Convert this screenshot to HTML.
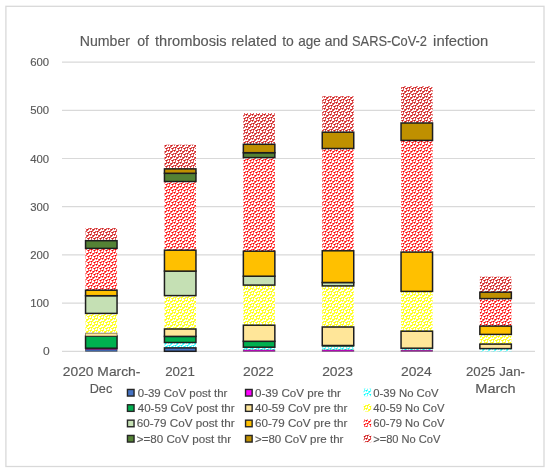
<!DOCTYPE html>
<html><head><meta charset="utf-8"><style>
html,body{margin:0;padding:0;background:#fff;}
svg{display:block;filter:blur(0.5px);}
text{font-family:"Liberation Sans",sans-serif;fill:#595959;stroke:#595959;stroke-width:0.15px;}
</style></head><body>
<svg width="550" height="473" viewBox="0 0 550 473">
<defs>
<pattern id="pr" patternUnits="userSpaceOnUse" width="6" height="6"><rect width="6" height="6" fill="#FFFFFF"/><rect x="0" y="0" width="1" height="1" fill="#FF0000"/><rect x="1" y="0" width="1" height="1" fill="#FF6464"/><rect x="4" y="0" width="1" height="1" fill="#FF6464"/><rect x="5" y="0" width="1" height="1" fill="#FF6464"/><rect x="0" y="1" width="1" height="1" fill="#FF6464"/><rect x="2" y="1" width="1" height="1" fill="#FF6464"/><rect x="3" y="1" width="1" height="1" fill="#FF0000"/><rect x="4" y="1" width="1" height="1" fill="#FF6464"/><rect x="2" y="2" width="1" height="1" fill="#FF6464"/><rect x="3" y="2" width="1" height="1" fill="#FF6464"/><rect x="0" y="3" width="1" height="1" fill="#FF6464"/><rect x="1" y="3" width="1" height="1" fill="#FF0000"/><rect x="2" y="3" width="1" height="1" fill="#FF6464"/><rect x="5" y="3" width="1" height="1" fill="#FF6464"/><rect x="1" y="4" width="1" height="1" fill="#FF6464"/><rect x="3" y="4" width="1" height="1" fill="#FF6464"/><rect x="4" y="4" width="1" height="1" fill="#FF0000"/><rect x="5" y="4" width="1" height="1" fill="#FF6464"/><rect x="1" y="5" width="1" height="1" fill="#FF6464"/><rect x="4" y="5" width="1" height="1" fill="#FF6464"/></pattern>
<pattern id="pr2" patternUnits="userSpaceOnUse" width="6" height="6"><rect width="6" height="6" fill="#FFFFFF"/><rect x="0" y="0" width="1" height="1" fill="#C81818"/><rect x="1" y="0" width="1" height="1" fill="#E05A5A"/><rect x="4" y="0" width="1" height="1" fill="#E05A5A"/><rect x="5" y="0" width="1" height="1" fill="#E05A5A"/><rect x="0" y="1" width="1" height="1" fill="#E05A5A"/><rect x="2" y="1" width="1" height="1" fill="#E05A5A"/><rect x="3" y="1" width="1" height="1" fill="#C81818"/><rect x="4" y="1" width="1" height="1" fill="#E05A5A"/><rect x="2" y="2" width="1" height="1" fill="#E05A5A"/><rect x="3" y="2" width="1" height="1" fill="#E05A5A"/><rect x="0" y="3" width="1" height="1" fill="#E05A5A"/><rect x="1" y="3" width="1" height="1" fill="#C81818"/><rect x="2" y="3" width="1" height="1" fill="#E05A5A"/><rect x="5" y="3" width="1" height="1" fill="#E05A5A"/><rect x="1" y="4" width="1" height="1" fill="#E05A5A"/><rect x="3" y="4" width="1" height="1" fill="#E05A5A"/><rect x="4" y="4" width="1" height="1" fill="#C81818"/><rect x="5" y="4" width="1" height="1" fill="#E05A5A"/><rect x="1" y="5" width="1" height="1" fill="#E05A5A"/><rect x="4" y="5" width="1" height="1" fill="#E05A5A"/></pattern>
<pattern id="py" patternUnits="userSpaceOnUse" width="6" height="6"><rect width="6" height="6" fill="#FFFFFF"/><rect x="0" y="0" width="1" height="1" fill="#FFFF00"/><rect x="1" y="0" width="1" height="1" fill="#FFFF40"/><rect x="4" y="0" width="1" height="1" fill="#FFFF40"/><rect x="5" y="0" width="1" height="1" fill="#FFFF40"/><rect x="0" y="1" width="1" height="1" fill="#FFFF40"/><rect x="2" y="1" width="1" height="1" fill="#FFFF40"/><rect x="3" y="1" width="1" height="1" fill="#FFFF00"/><rect x="4" y="1" width="1" height="1" fill="#FFFF40"/><rect x="2" y="2" width="1" height="1" fill="#FFFF40"/><rect x="3" y="2" width="1" height="1" fill="#FFFF40"/><rect x="0" y="3" width="1" height="1" fill="#FFFF40"/><rect x="1" y="3" width="1" height="1" fill="#FFFF00"/><rect x="2" y="3" width="1" height="1" fill="#FFFF40"/><rect x="5" y="3" width="1" height="1" fill="#FFFF40"/><rect x="1" y="4" width="1" height="1" fill="#FFFF40"/><rect x="3" y="4" width="1" height="1" fill="#FFFF40"/><rect x="4" y="4" width="1" height="1" fill="#FFFF00"/><rect x="5" y="4" width="1" height="1" fill="#FFFF40"/><rect x="1" y="5" width="1" height="1" fill="#FFFF40"/><rect x="4" y="5" width="1" height="1" fill="#FFFF40"/></pattern>
<pattern id="pc" patternUnits="userSpaceOnUse" width="6" height="6"><rect width="6" height="6" fill="#FFFFFF"/><rect x="0" y="0" width="1" height="1" fill="#00FFFF"/><rect x="1" y="0" width="1" height="1" fill="#70FFFF"/><rect x="4" y="0" width="1" height="1" fill="#70FFFF"/><rect x="5" y="0" width="1" height="1" fill="#70FFFF"/><rect x="0" y="1" width="1" height="1" fill="#70FFFF"/><rect x="2" y="1" width="1" height="1" fill="#70FFFF"/><rect x="3" y="1" width="1" height="1" fill="#00FFFF"/><rect x="4" y="1" width="1" height="1" fill="#70FFFF"/><rect x="2" y="2" width="1" height="1" fill="#70FFFF"/><rect x="3" y="2" width="1" height="1" fill="#70FFFF"/><rect x="0" y="3" width="1" height="1" fill="#70FFFF"/><rect x="1" y="3" width="1" height="1" fill="#00FFFF"/><rect x="2" y="3" width="1" height="1" fill="#70FFFF"/><rect x="5" y="3" width="1" height="1" fill="#70FFFF"/><rect x="1" y="4" width="1" height="1" fill="#70FFFF"/><rect x="3" y="4" width="1" height="1" fill="#70FFFF"/><rect x="4" y="4" width="1" height="1" fill="#00FFFF"/><rect x="5" y="4" width="1" height="1" fill="#70FFFF"/><rect x="1" y="5" width="1" height="1" fill="#70FFFF"/><rect x="4" y="5" width="1" height="1" fill="#70FFFF"/></pattern>
</defs>
<rect x="0" y="0" width="550" height="473" fill="#fff"/>
<rect x="5.9" y="6.3" width="538.1" height="460.2" fill="none" stroke="#D9D9D9" stroke-width="1.3"/>
<line x1="62" y1="351.30" x2="535" y2="351.30" stroke="#D9D9D9" stroke-width="1.2"/>
<line x1="62" y1="303.10" x2="535" y2="303.10" stroke="#D9D9D9" stroke-width="1.2"/>
<line x1="62" y1="254.90" x2="535" y2="254.90" stroke="#D9D9D9" stroke-width="1.2"/>
<line x1="62" y1="206.70" x2="535" y2="206.70" stroke="#D9D9D9" stroke-width="1.2"/>
<line x1="62" y1="158.50" x2="535" y2="158.50" stroke="#D9D9D9" stroke-width="1.2"/>
<line x1="62" y1="110.30" x2="535" y2="110.30" stroke="#D9D9D9" stroke-width="1.2"/>
<line x1="62" y1="62.10" x2="535" y2="62.10" stroke="#D9D9D9" stroke-width="1.2"/>
<rect x="85.55" y="313.40" width="31.5" height="19.80" fill="url(#py)"/>
<rect x="85.55" y="248.40" width="31.5" height="41.80" fill="url(#pr)"/>
<rect x="85.55" y="228.10" width="31.5" height="12.60" fill="url(#pr2)"/>
<rect x="85.55" y="349.60" width="31.5" height="1.70" fill="#4472C4" stroke="#1E1E1E" stroke-opacity="0.55" stroke-width="0.9"/>
<rect x="85.55" y="348.20" width="31.5" height="1.40" fill="#FF00FF" stroke="#1E1E1E" stroke-opacity="0.55" stroke-width="0.9"/>
<rect x="85.55" y="336.10" width="31.5" height="12.10" fill="#00B050" stroke="#1E1E1E" stroke-width="1.5"/>
<rect x="85.55" y="333.20" width="31.5" height="2.90" fill="#FFE699" stroke="#1E1E1E" stroke-opacity="0.55" stroke-width="0.9"/>
<rect x="85.55" y="295.70" width="31.5" height="17.70" fill="#C5E0B4" stroke="#1E1E1E" stroke-width="1.5"/>
<rect x="85.55" y="290.20" width="31.5" height="5.50" fill="#FFC000" stroke="#1E1E1E" stroke-width="1.5"/>
<rect x="85.55" y="240.70" width="31.5" height="7.70" fill="#548235" stroke="#1E1E1E" stroke-width="1.5"/>
<rect x="164.45" y="342.50" width="31.5" height="5.40" fill="url(#pc)"/>
<rect x="164.45" y="295.60" width="31.5" height="33.40" fill="url(#py)"/>
<rect x="164.45" y="181.50" width="31.5" height="68.70" fill="url(#pr)"/>
<rect x="164.45" y="144.70" width="31.5" height="24.20" fill="url(#pr2)"/>
<rect x="164.45" y="347.90" width="31.5" height="3.40" fill="#4472C4" stroke="#1E1E1E" stroke-width="1.5"/>
<rect x="164.45" y="336.40" width="31.5" height="6.10" fill="#00B050" stroke="#1E1E1E" stroke-width="1.5"/>
<rect x="164.45" y="329.00" width="31.5" height="7.40" fill="#FFE699" stroke="#1E1E1E" stroke-width="1.5"/>
<rect x="164.45" y="271.10" width="31.5" height="24.50" fill="#C5E0B4" stroke="#1E1E1E" stroke-width="1.5"/>
<rect x="164.45" y="250.20" width="31.5" height="20.90" fill="#FFC000" stroke="#1E1E1E" stroke-width="1.5"/>
<rect x="164.45" y="173.30" width="31.5" height="8.20" fill="#548235" stroke="#1E1E1E" stroke-width="1.5"/>
<rect x="164.45" y="168.90" width="31.5" height="4.40" fill="#BF9000" stroke="#1E1E1E" stroke-width="1.5"/>
<rect x="243.35" y="347.20" width="31.5" height="2.80" fill="url(#pc)"/>
<rect x="243.35" y="285.10" width="31.5" height="40.10" fill="url(#py)"/>
<rect x="243.35" y="157.60" width="31.5" height="93.60" fill="url(#pr)"/>
<rect x="243.35" y="113.10" width="31.5" height="31.20" fill="url(#pr2)"/>
<rect x="243.35" y="350.00" width="31.5" height="1.30" fill="#FF00FF" stroke="#1E1E1E" stroke-opacity="0.55" stroke-width="0.9"/>
<rect x="243.35" y="341.30" width="31.5" height="5.90" fill="#00B050" stroke="#1E1E1E" stroke-width="1.5"/>
<rect x="243.35" y="325.20" width="31.5" height="16.10" fill="#FFE699" stroke="#1E1E1E" stroke-width="1.5"/>
<rect x="243.35" y="276.20" width="31.5" height="8.90" fill="#C5E0B4" stroke="#1E1E1E" stroke-width="1.5"/>
<rect x="243.35" y="251.20" width="31.5" height="25.00" fill="#FFC000" stroke="#1E1E1E" stroke-width="1.5"/>
<rect x="243.35" y="152.70" width="31.5" height="4.90" fill="#548235" stroke="#1E1E1E" stroke-width="1.5"/>
<rect x="243.35" y="144.30" width="31.5" height="8.40" fill="#BF9000" stroke="#1E1E1E" stroke-width="1.5"/>
<rect x="322.25" y="346.60" width="31.5" height="3.40" fill="url(#pc)"/>
<rect x="322.25" y="285.90" width="31.5" height="41.10" fill="url(#py)"/>
<rect x="322.25" y="148.50" width="31.5" height="102.30" fill="url(#pr)"/>
<rect x="322.25" y="96.20" width="31.5" height="36.00" fill="url(#pr2)"/>
<rect x="322.25" y="350.00" width="31.5" height="1.30" fill="#FF00FF" stroke="#1E1E1E" stroke-opacity="0.55" stroke-width="0.9"/>
<rect x="322.25" y="345.50" width="31.5" height="1.10" fill="#00B050" stroke="#1E1E1E" stroke-opacity="0.55" stroke-width="0.9"/>
<rect x="322.25" y="327.00" width="31.5" height="18.50" fill="#FFE699" stroke="#1E1E1E" stroke-width="1.5"/>
<rect x="322.25" y="282.50" width="31.5" height="3.40" fill="#C5E0B4" stroke="#1E1E1E" stroke-width="1.5"/>
<rect x="322.25" y="250.80" width="31.5" height="31.70" fill="#FFC000" stroke="#1E1E1E" stroke-width="1.5"/>
<rect x="322.25" y="132.20" width="31.5" height="16.30" fill="#BF9000" stroke="#1E1E1E" stroke-width="1.5"/>
<rect x="401.05" y="348.20" width="31.5" height="2.00" fill="url(#pc)"/>
<rect x="401.05" y="291.40" width="31.5" height="39.80" fill="url(#py)"/>
<rect x="401.05" y="140.40" width="31.5" height="111.70" fill="url(#pr)"/>
<rect x="401.05" y="86.20" width="31.5" height="36.80" fill="url(#pr2)"/>
<rect x="401.05" y="350.20" width="31.5" height="1.10" fill="#FF00FF" stroke="#1E1E1E" stroke-opacity="0.55" stroke-width="0.9"/>
<rect x="401.05" y="331.20" width="31.5" height="17.00" fill="#FFE699" stroke="#1E1E1E" stroke-width="1.5"/>
<rect x="401.05" y="252.10" width="31.5" height="39.30" fill="#FFC000" stroke="#1E1E1E" stroke-width="1.5"/>
<rect x="401.05" y="123.00" width="31.5" height="17.40" fill="#BF9000" stroke="#1E1E1E" stroke-width="1.5"/>
<rect x="479.85" y="348.60" width="31.5" height="2.70" fill="url(#pc)"/>
<rect x="479.85" y="334.40" width="31.5" height="9.70" fill="url(#py)"/>
<rect x="479.85" y="298.60" width="31.5" height="27.50" fill="url(#pr)"/>
<rect x="479.85" y="276.70" width="31.5" height="15.50" fill="url(#pr2)"/>
<rect x="479.85" y="344.10" width="31.5" height="4.50" fill="#FFE699" stroke="#1E1E1E" stroke-width="1.5"/>
<rect x="479.85" y="326.10" width="31.5" height="8.30" fill="#FFC000" stroke="#1E1E1E" stroke-width="1.5"/>
<rect x="479.85" y="292.20" width="31.5" height="6.40" fill="#BF9000" stroke="#1E1E1E" stroke-width="1.5"/>
<text x="42.9" y="355.30" font-size="11.2" textLength="6.7" lengthAdjust="spacingAndGlyphs">0</text>
<text x="30.2" y="307.10" font-size="11.2" textLength="18.9" lengthAdjust="spacingAndGlyphs">100</text>
<text x="30.2" y="258.90" font-size="11.2" textLength="18.9" lengthAdjust="spacingAndGlyphs">200</text>
<text x="30.2" y="210.70" font-size="11.2" textLength="18.9" lengthAdjust="spacingAndGlyphs">300</text>
<text x="30.2" y="162.50" font-size="11.2" textLength="18.9" lengthAdjust="spacingAndGlyphs">400</text>
<text x="30.2" y="114.30" font-size="11.2" textLength="18.9" lengthAdjust="spacingAndGlyphs">500</text>
<text x="30.2" y="66.10" font-size="11.2" textLength="18.9" lengthAdjust="spacingAndGlyphs">600</text>
<text x="79.76" y="45.5" font-size="14.1" textLength="50.24" lengthAdjust="spacingAndGlyphs">Number</text>
<text x="137.17" y="45.5" font-size="14.1" textLength="11.83" lengthAdjust="spacingAndGlyphs">of</text>
<text x="154.99" y="45.5" font-size="14.1" textLength="71.61" lengthAdjust="spacingAndGlyphs">thrombosis</text>
<text x="231.15" y="45.5" font-size="14.1" textLength="45.71" lengthAdjust="spacingAndGlyphs">related</text>
<text x="282.16" y="45.5" font-size="14.1" textLength="11.63" lengthAdjust="spacingAndGlyphs">to</text>
<text x="298.18" y="45.5" font-size="14.1" textLength="22.65" lengthAdjust="spacingAndGlyphs">age</text>
<text x="324.78" y="45.5" font-size="14.1" textLength="23.28" lengthAdjust="spacingAndGlyphs">and</text>
<text x="351.99" y="45.5" font-size="14.1" textLength="75.03" lengthAdjust="spacingAndGlyphs">SARS-CoV-2</text>
<text x="433.14" y="45.5" font-size="14.1" textLength="55.11" lengthAdjust="spacingAndGlyphs">infection</text>
<text x="62.79" y="375.8" font-size="13" textLength="77.61" lengthAdjust="spacingAndGlyphs">2020 March-</text>
<text x="165.18" y="375.8" font-size="13" textLength="29.64" lengthAdjust="spacingAndGlyphs">2021</text>
<text x="242.94" y="375.8" font-size="13" textLength="30.87" lengthAdjust="spacingAndGlyphs">2022</text>
<text x="322.17" y="375.8" font-size="13" textLength="30.87" lengthAdjust="spacingAndGlyphs">2023</text>
<text x="400.94" y="375.8" font-size="13" textLength="30.87" lengthAdjust="spacingAndGlyphs">2024</text>
<text x="465.98" y="375.8" font-size="13" textLength="59.04" lengthAdjust="spacingAndGlyphs">2025 Jan-</text>
<text x="89.73" y="393.1" font-size="13" textLength="22.49" lengthAdjust="spacingAndGlyphs">Dec</text>
<text x="475.3" y="393.4" font-size="13" textLength="40.33" lengthAdjust="spacingAndGlyphs">March</text>
<rect x="127.45" y="389.45" width="6.6" height="6.6" fill="#4472C4" stroke="#262626" stroke-width="1.4"/>
<text x="137.8" y="396.5" font-size="11" textLength="89.61" lengthAdjust="spacingAndGlyphs">0-39 CoV post thr</text>
<rect x="245.55" y="389.45" width="6.6" height="6.6" fill="#FF00FF" stroke="#262626" stroke-width="1.4"/>
<text x="255.0" y="396.5" font-size="11" textLength="85.82" lengthAdjust="spacingAndGlyphs">0-39 CoV pre thr</text>
<rect x="363.70" y="388.70" width="7.5" height="7.5" fill="url(#pc)"/>
<text x="373.19" y="396.5" font-size="11" textLength="65.42" lengthAdjust="spacingAndGlyphs">0-39 No CoV</text>
<rect x="127.45" y="404.75" width="6.6" height="6.6" fill="#00B050" stroke="#262626" stroke-width="1.4"/>
<text x="137.8" y="411.8" font-size="11" textLength="96.81" lengthAdjust="spacingAndGlyphs">40-59 CoV post thr</text>
<rect x="245.55" y="404.75" width="6.6" height="6.6" fill="#FFE699" stroke="#262626" stroke-width="1.4"/>
<text x="254.99" y="411.8" font-size="11" textLength="92.41" lengthAdjust="spacingAndGlyphs">40-59 CoV pre thr</text>
<rect x="363.70" y="404.00" width="7.5" height="7.5" fill="url(#py)"/>
<text x="373.2" y="411.8" font-size="11" textLength="71.21" lengthAdjust="spacingAndGlyphs">40-59 No CoV</text>
<rect x="127.45" y="420.15" width="6.6" height="6.6" fill="#C5E0B4" stroke="#262626" stroke-width="1.4"/>
<text x="136.79" y="427.2" font-size="11" textLength="97.82" lengthAdjust="spacingAndGlyphs">60-79 CoV post thr</text>
<rect x="245.55" y="420.15" width="6.6" height="6.6" fill="#FFC000" stroke="#262626" stroke-width="1.4"/>
<text x="254.99" y="427.2" font-size="11" textLength="92.41" lengthAdjust="spacingAndGlyphs">60-79 CoV pre thr</text>
<rect x="363.70" y="419.40" width="7.5" height="7.5" fill="url(#pr)"/>
<text x="373.2" y="427.2" font-size="11" textLength="71.21" lengthAdjust="spacingAndGlyphs">60-79 No CoV</text>
<rect x="127.45" y="435.45" width="6.6" height="6.6" fill="#548235" stroke="#262626" stroke-width="1.4"/>
<text x="136.8" y="442.5" font-size="11" textLength="94.2" lengthAdjust="spacingAndGlyphs">&gt;=80 CoV post thr</text>
<rect x="245.55" y="435.45" width="6.6" height="6.6" fill="#BF9000" stroke="#262626" stroke-width="1.4"/>
<text x="255.0" y="442.5" font-size="11" textLength="88.41" lengthAdjust="spacingAndGlyphs">&gt;=80 CoV pre thr</text>
<rect x="363.70" y="434.70" width="7.5" height="7.5" fill="url(#pr2)"/>
<text x="373.2" y="442.5" font-size="11" textLength="67.21" lengthAdjust="spacingAndGlyphs">&gt;=80 No CoV</text>
</svg>
</body></html>
